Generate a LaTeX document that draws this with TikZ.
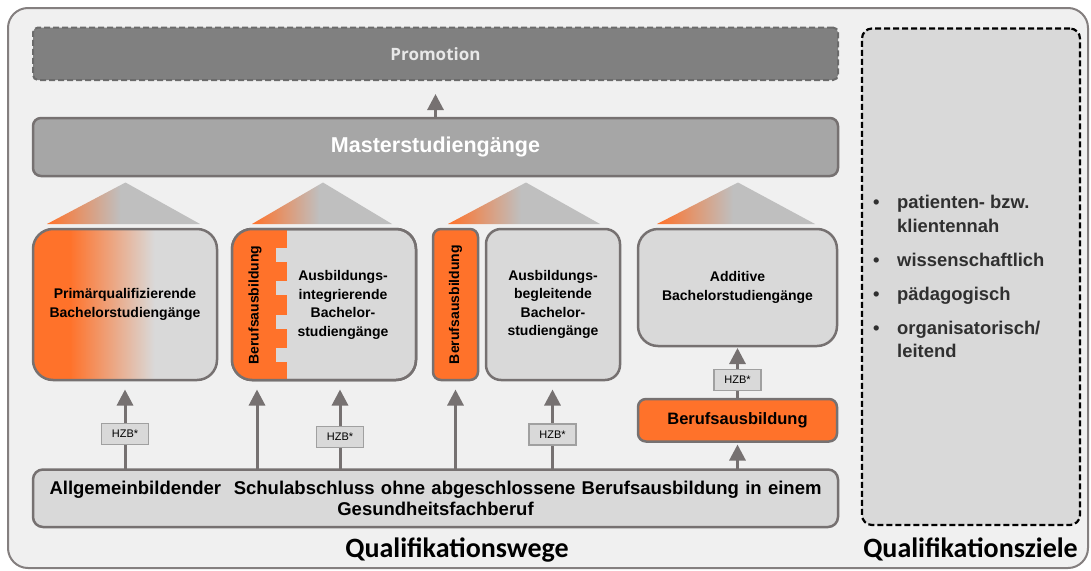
\documentclass[tikz,border=0pt]{standalone}
\usepackage{fontspec}
\setmainfont{Liberation Sans}
\newfontfamily\calibrifont{Carlito}
\newfontfamily\opensansfont{Open Sans}
\usepackage{graphicx}
\usepackage{xcolor}
\usetikzlibrary{arrows.meta,positioning,calc}

\definecolor{hintergrund}{HTML}{F0F0F0}
\definecolor{linie}{HTML}{767171}
\definecolor{beruforange}{RGB}{255,114,42}
\definecolor{kastengrau}{HTML}{D9D9D9}
\definecolor{dachgrau}{HTML}{BFBFBF}
\definecolor{promograu}{HTML}{808080}
\definecolor{promorand}{HTML}{6B6B6B}
\definecolor{promotext}{HTML}{E8E8E8}
\definecolor{mastergrau}{HTML}{A6A6A6}
\definecolor{hzbrand}{HTML}{A0A0A0}
\definecolor{textgrau}{HTML}{303030}

% Verlaeufe: Dach (orange -> grau) und primaerqualifizierender Kasten
\pgfdeclarehorizontalshading{dach}{100bp}{color(0bp)=(beruforange); color(25bp)=(beruforange); color(49bp)=(dachgrau); color(100bp)=(dachgrau)}
\pgfdeclarehorizontalshading{primaer}{100bp}{color(0bp)=(beruforange); color(35bp)=(beruforange); color(58bp)=(kastengrau); color(100bp)=(kastengrau)}

\begin{document}
\begin{tikzpicture}[x=1pt,y=-1pt,
				kasten/.style={draw=linie,line width=2.5pt,fill=kastengrau,rounded corners=20pt,minimum height=151pt,inner sep=0pt,outer sep=0pt,align=center,font=\fontsize{14}{18.5}\selectfont\bfseries},
				kastentext/.style={inner sep=0pt,align=center,font=\fontsize{14}{18.5}\selectfont\bfseries},
				balken/.style={draw=linie,line width=2.5pt,minimum width=805pt,inner sep=0pt,outer sep=0pt,align=center},
				hzb/.style={draw=hzbrand,line width=1.2pt,fill=kastengrau,minimum width=47pt,minimum height=21pt,inner sep=0pt,outer sep=0pt,font=\fontsize{11}{13}\selectfont},
				pfeil/.style={draw=linie,line width=3pt,-{Triangle[length=16pt,width=16pt]},shorten >=9.5pt},
				titel/.style={anchor=base,inner sep=0pt,font=\calibrifont\bfseries\fontsize{28}{32}\selectfont}
				]
				\useasboundingbox (0,0) rectangle (1091,570);
				
				% Rahmen
				\draw[draw=linie!90,line width=2pt,fill=hintergrund,rounded corners=20pt] (8,8) rectangle (1088,568);
				
				% Promotion und Master
				\node[balken,dash pattern=on 6pt off 3pt,draw=promorand,line width=2pt,fill=promograu,rounded corners=5pt,minimum height=52.5pt,text=promotext,font=\opensansfont\bfseries\fontsize{17}{20}\selectfont] (promo) at (435.5,53.75) {Promotion};
				\node[balken,below=38pt of promo,fill=mastergrau,rounded corners=8pt,minimum height=58pt,text=white,font=\fontsize{21.5}{25}\selectfont\bfseries] (master) {Masterstudiengänge};
				
				% Daecher
				\foreach \links/\spitze/\rechts in {47/125.5/200, 252/323/392, 448/526/600, 657/738/815}
					\shade[shading=dach] (\links,224) -- (\spitze,182.5) -- (\rechts,224) -- cycle;
				
				% Bachelorstudiengaenge
				\node[kasten,minimum width=184pt,shading=primaer,shade] (prim) at (125,304.5) {Primärqualifizierende\\Bachelorstudiengänge};
				\node[kasten,minimum width=184pt,right=15pt of prim] (integ) {};
				\node[kasten,minimum width=45pt,right=17pt of integ,fill=beruforange,rounded corners=8pt] (strip) {\rotatebox{90}{Berufsausbildung}};
				\node[kasten,minimum width=134pt,right=8pt of strip,rounded corners=15pt] (begl) {Ausbildungs-\\begleitende\\Bachelor-\\studiengänge};
				\node[kasten,minimum width=199pt,minimum height=117pt,right=18pt of begl.north east,anchor=north west] (addit) {Additive\\Bachelorstudiengänge};
				\node[kasten,minimum width=199pt,minimum height=42.5pt,below=53pt of addit,fill=beruforange,rounded corners=8pt,font=\fontsize{16.5}{20}\selectfont\bfseries] (beruf) {Berufsausbildung};
				
				% Verzahnung im ausbildungsintegrierenden Kasten
				\begin{scope}
					\clip[rounded corners=20pt] (integ.south west) rectangle (integ.north east);
					\fill[beruforange] (integ.south west) rectangle ([xshift=55pt]integ.north west);
					\foreach \kerbe in {248,281,315,348}
						\fill[kastengrau] (276,\kerbe) rectangle (288,\kerbe+14);
				\end{scope}
				\draw[draw=linie,line width=2.5pt,rounded corners=20pt] (integ.south west) rectangle (integ.north east);
				\node[kastentext] (integberuf) at (255,305) {\rotatebox{90}{Berufsausbildung}};
				\node[kastentext] (integtext) at (343,305) {Ausbildungs-\\integrierende\\Bachelor-\\studiengänge};
				
				% Schulabschluss
				\node[balken,fill=kastengrau,rounded corners=10pt,minimum height=57.5pt,font=\fontsize{18.5}{21}\selectfont\bfseries] (basis) at (435.5,498.25) {\makebox[772pt][s]{Allgemeinbildender\ \ Schulabschluss ohne abgeschlossene Berufsausbildung in einem}\\Gesundheitsfachberuf};
				
				% Qualifikationsziele
				\node[draw=black,line width=2.2pt,dash pattern=on 6pt off 3pt,fill=kastengrau,rounded corners=10pt,minimum width=218pt,minimum height=496.5pt,outer sep=0pt] (panel) at (971,276.75) {};
				\node[anchor=west,inner sep=0pt,align=left,text=textgrau,font=\fontsize{18.4}{23.5}\selectfont\bfseries] (zielliste) at ([xshift=11pt]panel.west) {%
					\makebox[24pt][l]{\textbullet}patienten- bzw.\\\hspace*{24pt}klientennah\\[10.5pt]
					\makebox[24pt][l]{\textbullet}wissenschaftlich\\[10.5pt]
					\makebox[24pt][l]{\textbullet}pädagogisch\\[10.5pt]
					\makebox[24pt][l]{\textbullet}organisatorisch/\\\hspace*{24pt}leitend};
				
				% Pfeile
				\coordinate (integfuss) at ([xshift=25pt]integ.south west);
				\draw[pfeil,shorten >=14pt] (master.north) -- (promo.south);
				\draw[pfeil] (basis.north -| prim.south) -- (prim.south);
				\draw[pfeil] (basis.north -| integfuss) -- (integfuss);
				\draw[pfeil] (basis.north -| 340,0) -- (integ.south -| 340,0);
				\draw[pfeil] (basis.north -| strip.south) -- (strip.south);
				\draw[pfeil] (basis.north -| 552.5,0) -- (begl.south -| 552.5,0);
				\draw[pfeil,shorten >=3pt] (basis.north -| beruf.south) -- (beruf.south);
				\draw[pfeil,shorten >=2pt] (beruf.north) -- (addit.south);
				
				% HZB
				\node[hzb] (hzb1) at (prim.south |- 0,434) {HZB*};
				\node[hzb] (hzb2) at (340,436.7) {HZB*};
				\node[hzb] (hzb3) at (552.5,434.5) {HZB*};
				\node[hzb] (hzb4) at (beruf.north |- 0,380) {HZB*};
				
				% Titel
				\node[titel] (wegetitel) at (457,557) {Qualifikationswege};
				\node[titel] (zieletitel) at (970.5,557) {Qualifikationsziele};
				
			\end{tikzpicture}
\end{document}
